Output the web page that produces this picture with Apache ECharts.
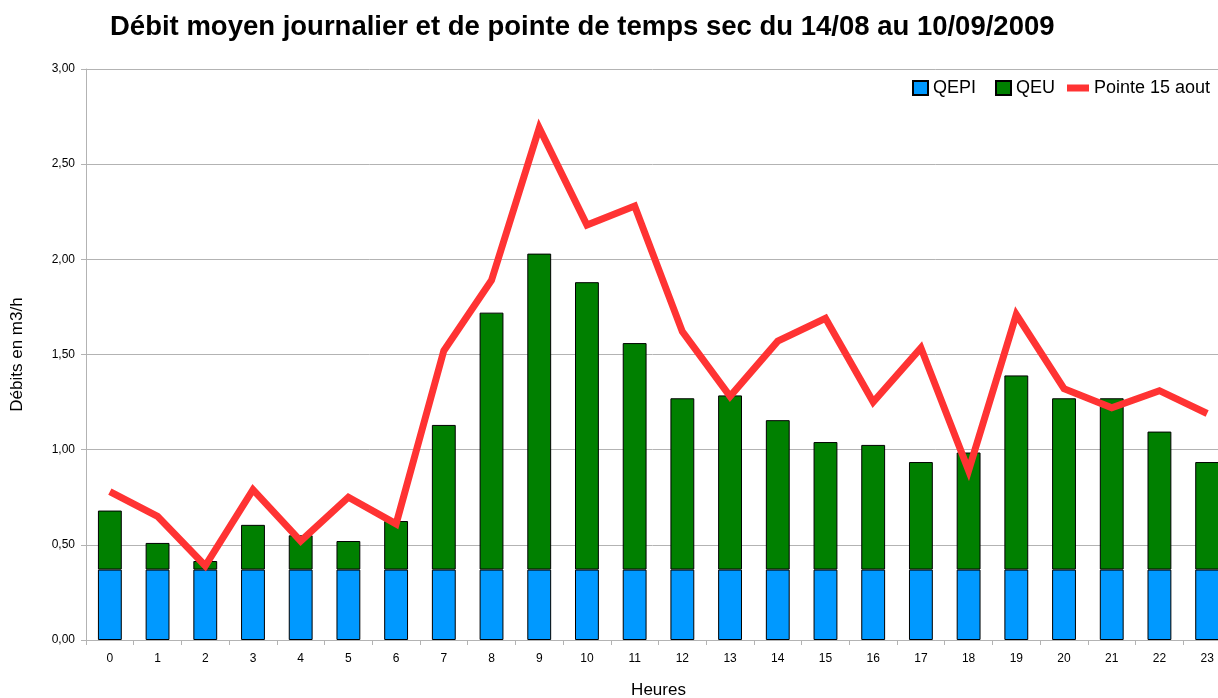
<!DOCTYPE html>
<html>
<head>
<meta charset="utf-8">
<script src="https://cdn.jsdelivr.net/npm/echarts@6/dist/echarts.min.js"></script>
<style>
html,body{margin:0;padding:0;background:#fff;}
#chart{width:1218px;height:698px;}
</style>
</head>
<body>
<div id="chart"></div>
<script>
var hours = ['0','1','2','3','4','5','6','7','8','9','10','11','12','13','14','15','16','17','18','19','20','21','22','23'];
var qepi = [0.37,0.37,0.37,0.37,0.37,0.37,0.37,0.37,0.37,0.37,0.37,0.37,0.37,0.37,0.37,0.37,0.37,0.37,0.37,0.37,0.37,0.37,0.37,0.37];
var qeu = [0.31,0.14,0.045,0.235,0.18,0.15,0.255,0.76,1.35,1.66,1.51,1.19,0.90,0.915,0.785,0.67,0.655,0.565,0.615,1.02,0.90,0.90,0.725,0.565];
var pointe = [0.78,0.65,0.39,0.79,0.52,0.75,0.61,1.52,1.89,2.69,2.18,2.28,1.62,1.28,1.57,1.69,1.25,1.535,0.89,1.71,1.32,1.22,1.31,1.19];
var yTicks = { min: 0, max: 3, interval: 0.5 };

var chart = echarts.init(document.getElementById('chart'), null, {renderer:'canvas'});
var font = 'Liberation Sans, Arial, sans-serif';
var legendText = {fontSize:18, color:'#000', fontFamily:font};
chart.setOption({
  animation:false,
  backgroundColor:'#fff',
  title:{
    text:'Débit moyen journalier et de pointe de temps sec du 14/08 au 10/09/2009',
    left:105, top:8,
    textStyle:{fontSize:27.5, fontWeight:'bold', color:'#000', fontFamily:font}
  },
  legend:[
    {data:[{name:'QEPI', icon:'rect'}], left:907, top:74, itemWidth:15, itemHeight:14, itemGap:0, textStyle:legendText},
    {data:[{name:'QEU', icon:'rect'}], left:990, top:74, itemWidth:15, itemHeight:14, itemGap:0, textStyle:legendText},
    {data:[{name:'Pointe 15 aout', icon:'rect'}], left:1062, top:74, itemWidth:22, itemHeight:7, itemGap:0, textStyle:legendText}
  ],
  grid:{left:86, top:69, height:571, width:1145, containLabel:false, outerBoundsMode:'none'},
  xAxis:{
    type:'category',
    data:hours,
    name:'Heures',
    nameLocation:'middle',
    nameGap:42,
    nameTextStyle:{fontSize:17, color:'#000', fontFamily:font},
    axisLine:{lineStyle:{color:'#b3b3b3', width:1}},
    axisTick:{show:true, length:5, lineStyle:{color:'#b3b3b3'}},
    axisLabel:{fontSize:12, color:'#000', margin:13, fontFamily:font},
    splitLine:{show:false}
  },
  yAxis:{
    type:'value',
    min:yTicks.min, max:yTicks.max, interval:yTicks.interval,
    name:'Débits en m3/h',
    nameLocation:'middle',
    nameGap:60,
    nameRotate:90,
    nameTextStyle:{fontSize:17, color:'#000', fontFamily:font},
    axisLine:{show:true, lineStyle:{color:'#b3b3b3', width:1}},
    axisTick:{show:true, length:5, lineStyle:{color:'#b3b3b3'}},
    axisLabel:{fontSize:12, color:'#000', margin:11, fontFamily:font,
      formatter:function(v){return v.toFixed(2).replace('.', ',');}},
    splitLine:{show:true, lineStyle:{color:'#b3b3b3', width:1}}
  },
  series:[
    {name:'QEPI', type:'bar', stack:'total', data:qepi, barWidth:'50%',
     itemStyle:{color:'#0099ff', borderColor:'#000', borderWidth:1}},
    {name:'QEU', type:'bar', stack:'total', data:qeu, barWidth:'50%',
     itemStyle:{color:'#008000', borderColor:'#000', borderWidth:1}},
    {name:'Pointe 15 aout', type:'line', data:pointe, showSymbol:false, symbol:'none',
     lineStyle:{color:'#ff3333', width:7, join:'miter'},
     itemStyle:{color:'#ff3333'}}
  ]
});
</script>
</body>
</html>
